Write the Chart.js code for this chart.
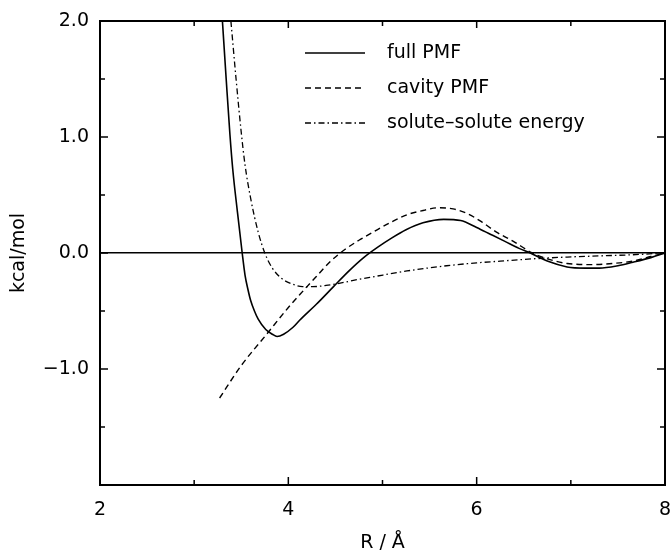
<!DOCTYPE html>
<html>
<head>
<meta charset="utf-8">
<script src="https://cdn.jsdelivr.net/npm/chart.js@4.4.1/dist/chart.umd.min.js"></script>
<style>
  html, body { margin: 0; padding: 0; background: #fff; }
  #wrap { width: 670px; height: 554px; position: relative; }
</style>
</head>
<body>
<div id="wrap"><canvas id="pmfChart"></canvas></div>
<script>
// values (R in Angstrom, energy in kcal/mol)
var fullR = [3.30, 3.34, 3.38, 3.41, 3.46, 3.51, 3.54, 3.57, 3.60, 3.64, 3.68, 3.76, 3.83, 3.88, 3.95, 4.05, 4.12, 4.30, 4.48, 4.65, 4.80, 4.95, 5.10, 5.25, 5.43, 5.65, 5.83, 6.00, 6.15, 6.30, 6.45, 6.57, 6.75, 6.96, 7.15, 7.30, 7.50, 7.66, 7.85, 8.00];
var fullE = [2.00, 1.50, 1.02, 0.72, 0.35, 0.00, -0.19, -0.31, -0.41, -0.50, -0.57, -0.66, -0.70, -0.72, -0.70, -0.64, -0.58, -0.44, -0.29, -0.15, -0.04, 0.05, 0.13, 0.20, 0.26, 0.29, 0.28, 0.22, 0.16, 0.10, 0.04, 0.00, -0.07, -0.12, -0.13, -0.13, -0.11, -0.08, -0.04, 0.00];

var cavR = [3.27, 3.50, 3.77, 4.00, 4.12, 4.30, 4.45, 4.60, 4.75, 4.90, 5.10, 5.26, 5.45, 5.59, 5.75, 5.90, 6.05, 6.21, 6.39, 6.59, 6.75, 6.96, 7.24, 7.45, 7.66, 7.85, 8.00];
var cavE = [-1.25, -0.97, -0.70, -0.47, -0.36, -0.20, -0.07, 0.03, 0.11, 0.18, 0.27, 0.33, 0.37, 0.39, 0.38, 0.34, 0.27, 0.18, 0.10, 0.00, -0.05, -0.09, -0.10, -0.09, -0.07, -0.03, 0.00];

var ssR = [3.39, 3.445, 3.50, 3.54, 3.60, 3.68, 3.75, 3.83, 3.93, 4.05, 4.15, 4.26, 4.40, 4.55, 4.76, 4.90, 5.26, 5.68, 6.00, 6.25, 6.60, 6.96, 7.30, 7.66, 8.00];
var ssE = [2.00, 1.50, 1.04, 0.76, 0.47, 0.18, 0.00, -0.13, -0.22, -0.27, -0.29, -0.29, -0.28, -0.26, -0.225, -0.205, -0.155, -0.11, -0.085, -0.07, -0.05, -0.035, -0.025, -0.015, 0.00];

var seriesNames = ['full PMF', 'cavity PMF', 'solute\u2013solute energy'];
var yLabelValues = [2, 1, 0, -1];
var xLabelValues = [2, 4, 6, 8];

function pairs(xs, ys) {
    return xs.map(function (x, i) { return { x: x, y: ys[i] }; });
}

var FONT = '"DejaVu Sans", sans-serif';

// frame, inward ticks and legend drawn on top
var framePlugin = {
    id: 'frame',
    afterDatasetsDraw: function (chart) {
        var ctx = chart.ctx, a = chart.chartArea;
        var xs = chart.scales.x, ys = chart.scales.y;
        ctx.save();
        ctx.strokeStyle = '#000';
        ctx.lineWidth = 1.5;
        ctx.setLineDash([]);
        ctx.beginPath();
        for (var v = 3; v < 8; v++) {
            var px = xs.getPixelForValue(v);
            var big = (v % 2 === 0);
            ctx.moveTo(px, a.bottom); ctx.lineTo(px, a.bottom - (big ? 8 : 5));
            ctx.moveTo(px, a.top); ctx.lineTo(px, a.top + (big ? 7 : 5));
        }
        for (var w = -1.5; w < 2; w += 0.5) {
            var py = ys.getPixelForValue(w);
            var l = (w % 1 === 0) ? 8 : 5;
            ctx.moveTo(a.left, py); ctx.lineTo(a.left + l, py);
            ctx.moveTo(a.right, py); ctx.lineTo(a.right - l, py);
        }
        ctx.stroke();
        ctx.lineWidth = 2;
        ctx.strokeRect(a.left, a.top, a.right - a.left, a.bottom - a.top);

        // legend
        ctx.font = '19px ' + FONT;
        ctx.textBaseline = 'middle';
        ctx.fillStyle = '#000';
        chart.data.datasets.forEach(function (ds, i) {
            var y = 53 + i * 35;
            ctx.lineWidth = ds.borderWidth;
            ctx.setLineDash(ds.borderDash || []);
            ctx.beginPath();
            ctx.moveTo(305, y); ctx.lineTo(365, y);
            ctx.stroke();
            ctx.fillText(ds.label, 387, y);
        });
        ctx.restore();
    }
};

var ctx = document.getElementById('pmfChart').getContext('2d');
var pmfChart = new Chart(ctx, {
    type: 'line',
    data: {
        datasets: [
            {
                label: seriesNames[0],
                data: pairs(fullR, fullE),
                borderColor: '#000',
                borderWidth: 1.6,
                borderDash: [],
                pointRadius: 0,
                fill: false,
                cubicInterpolationMode: 'monotone'
            },
            {
                label: seriesNames[1],
                data: pairs(cavR, cavE),
                borderColor: '#000',
                borderWidth: 1.4,
                borderDash: [6, 4],
                pointRadius: 0,
                fill: false,
                cubicInterpolationMode: 'monotone'
            },
            {
                label: seriesNames[2],
                data: pairs(ssR, ssE),
                borderColor: '#000',
                borderWidth: 1.3,
                borderDash: [6, 3, 1.5, 3],
                pointRadius: 0,
                fill: false,
                cubicInterpolationMode: 'monotone'
            }
        ]
    },
    options: {
        responsive: true,
        maintainAspectRatio: false,
        animation: false,
        layout: { padding: { top: 21, right: 5, left: 0, bottom: 0 } },
        plugins: {
            legend: { display: false },
            tooltip: { enabled: false }
        },
        scales: {
            x: {
                type: 'linear',
                min: 2,
                max: 8,
                afterFit: function (s) { s.height = 69; s.paddingLeft = 0; s.paddingRight = 0; },
                ticks: {
                    stepSize: 1,
                    padding: 14,
                    color: '#000',
                    font: { size: 19, family: FONT },
                    maxRotation: 0,
                    callback: function (v) { return xLabelValues.indexOf(v) >= 0 ? String(v) : ''; }
                },
                grid: { display: false, drawTicks: false },
                border: { display: false },
                title: {
                    display: true,
                    text: 'R / \u00c5',
                    color: '#000',
                    font: { size: 19, family: FONT },
                    padding: 0
                }
            },
            y: {
                type: 'linear',
                min: -2,
                max: 2,
                afterFit: function (s) { s.width = 100; s.paddingTop = 0; s.paddingBottom = 0; },
                ticks: {
                    stepSize: 0.5,
                    padding: 11,
                    color: '#000',
                    font: { size: 19, family: FONT },
                    callback: function (v) {
                        if (yLabelValues.indexOf(v) < 0) return '';
                        return (v < 0 ? '\u2212' : '') + Math.abs(v).toFixed(1);
                    }
                },
                grid: {
                    drawTicks: false,
                    lineWidth: 1.5,
                    color: function (c) { return c.tick && c.tick.value === 0 ? '#000' : 'rgba(0,0,0,0)'; }
                },
                border: { display: false },
                title: {
                    display: true,
                    text: 'kcal/mol',
                    color: '#000',
                    font: { size: 19, family: FONT },
                    padding: { top: 8, bottom: 0 }
                }
            }
        }
    },
    plugins: [framePlugin]
});
</script>
</body>
</html>
